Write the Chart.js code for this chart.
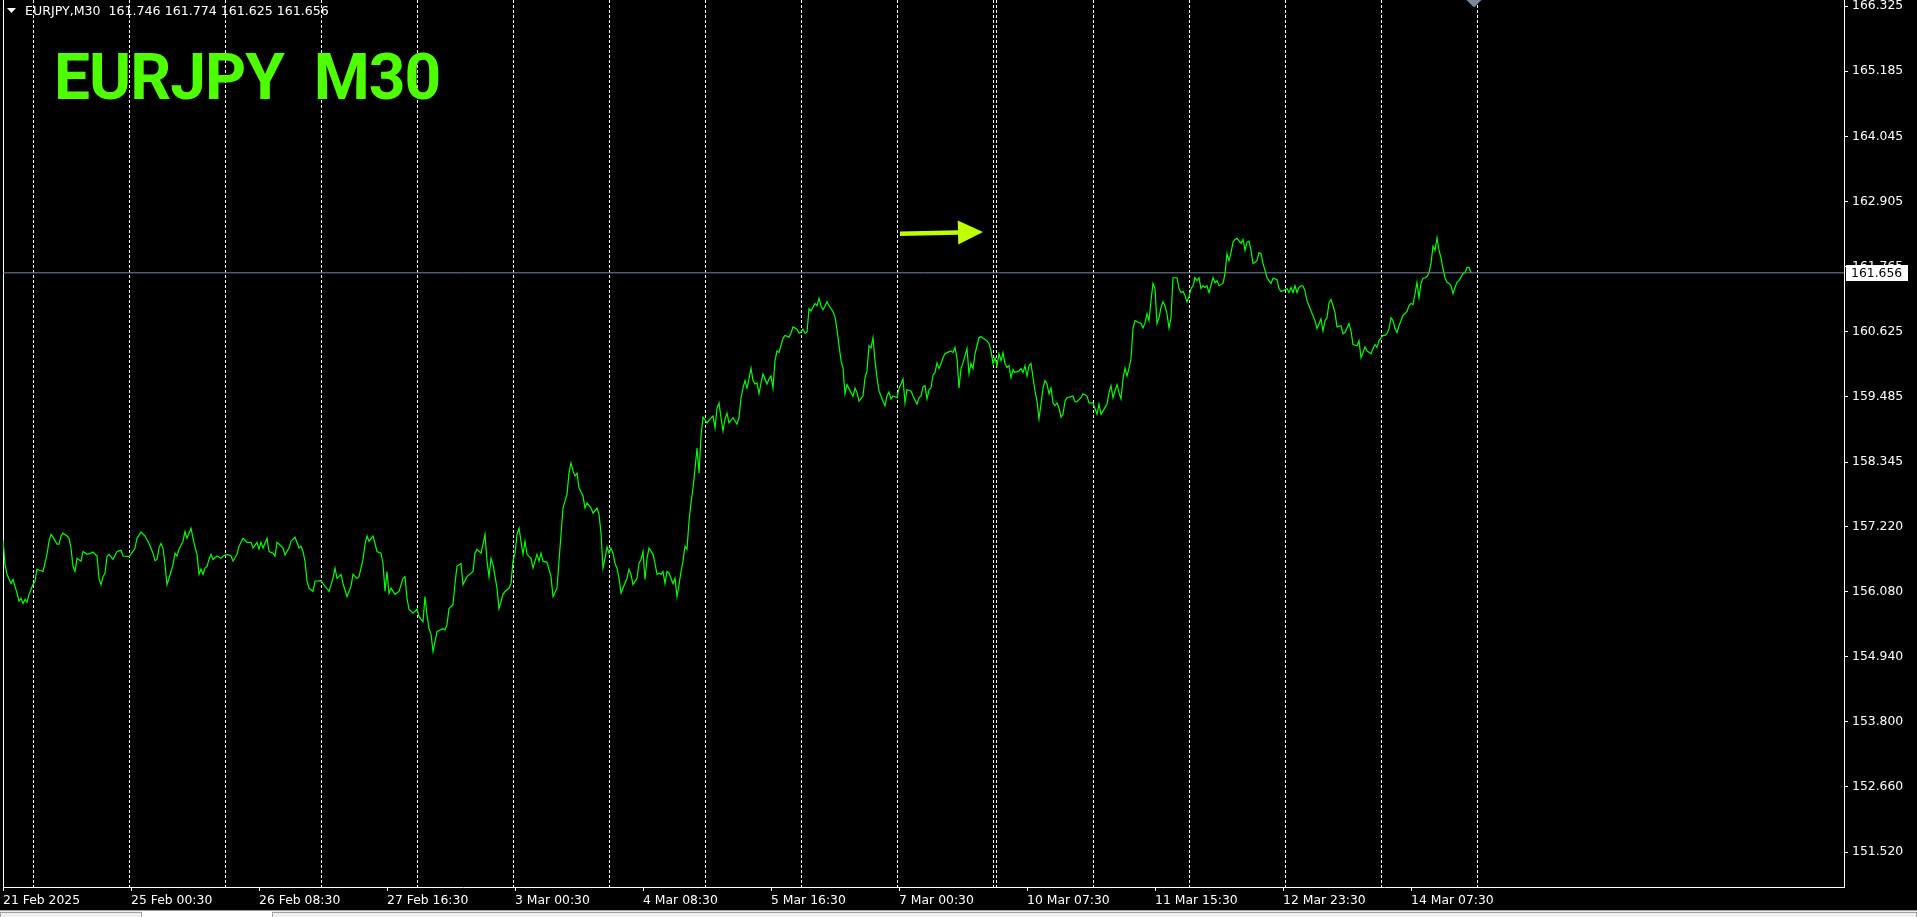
<!DOCTYPE html>
<html>
<head>
<meta charset="utf-8">
<title>EURJPY M30</title>
<script src="https://cdn.jsdelivr.net/npm/chart.js@4.4.1/dist/chart.umd.min.js"></script>
<style>
  html, body { margin: 0; padding: 0; background: #000; overflow: hidden; }
  #chart { display: block; }
</style>
</head>
<body>
<canvas id="chart" width="1917" height="917"></canvas>
<script>
// symbol info shown top-left
const symbolName = 'EURJPY';
const periodName = 'M30';
const lastBarOHLC = [161.746, 161.774, 161.625, 161.656];
const lastClose = 161.656;

// M30 bar number counted from the left edge, and the close at that bar
const barIdx = [
  0, 1, 2, 4, 5, 6, 7, 8, 9, 10,
  11, 12, 13, 15, 16, 17, 20, 22, 23, 24,
  25, 27, 28, 29, 30, 32, 33, 34, 35, 36,
  37, 39, 40, 42, 44, 45, 47, 48, 49, 50,
  51, 52, 53, 55, 57, 59, 60, 63, 65, 66,
  67, 69, 71, 73, 75, 76, 77, 78, 79, 80,
  81, 82, 84, 85, 86, 87, 88, 90, 91, 92,
  93, 94, 95, 96, 97, 98, 99, 100, 101, 102,
  103, 104, 105, 107, 109, 110, 112, 114, 115, 117,
  118, 120, 122, 124, 125, 127, 128, 129, 130, 132,
  133, 135, 136, 137, 138, 140, 141, 143, 144, 146,
  148, 149, 150, 151, 152, 153, 155, 156, 159, 160,
  163, 165, 166, 167, 169, 170, 172, 174, 175, 177,
  178, 180, 181, 182, 183, 185, 186, 187, 189, 190,
  191, 192, 193, 194, 196, 198, 200, 201, 202, 203,
  205, 207, 208, 210, 211, 212, 213, 214, 215, 216,
  217, 220, 221, 222, 223, 225, 226, 227, 229, 230,
  232, 235, 236, 237, 239, 240, 241, 242, 243, 244,
  245, 247, 248, 250, 251, 253, 254, 255, 256, 257,
  258, 259, 260, 261, 262, 264, 265, 267, 268, 269,
  270, 272, 274, 275, 277, 278, 279, 280, 282, 283,
  284, 285, 286, 287, 288, 290, 291, 292, 294, 295,
  297, 298, 299, 300, 301, 302, 303, 304, 305, 306,
  307, 308, 309, 310, 312, 313, 314, 315, 317, 318,
  319, 320, 321, 322, 323, 325, 326, 327, 328, 329,
  330, 331, 332, 333, 335, 336, 337, 338, 339, 340,
  341, 342, 343, 344, 345, 346, 347, 348, 349, 350,
  352, 353, 355, 356, 357, 358, 359, 360, 361, 362,
  363, 365, 367, 368, 369, 370, 371, 372, 373, 374,
  375, 376, 377, 378, 379, 380, 382, 383, 384, 385,
  386, 387, 388, 390, 391, 393, 394, 395, 397, 398,
  399, 400, 401, 402, 403, 404, 406, 407, 408, 409,
  410, 411, 412, 413, 415, 416, 417, 418, 419, 420,
  421, 422, 423, 425, 426, 427, 428, 430, 431, 432,
  433, 434, 435, 436, 437, 438, 440, 441, 442, 443,
  444, 445, 447, 448, 449, 450, 451, 452, 454, 455,
  457, 458, 459, 460, 461, 462, 463, 464, 465, 466,
  467, 468, 469, 470, 471, 472, 474, 475, 476, 477,
  478, 479, 480, 481, 482, 483, 484, 485, 486, 487,
  488, 489, 490, 492, 493, 494, 495, 496, 497, 498,
  499, 500, 501, 502, 503, 504, 505, 506, 508, 509,
  510, 511, 512, 513, 514, 515, 516, 517, 518, 519,
  520, 521, 522, 523, 524, 525, 526, 527, 528, 529,
  530, 531, 532, 534, 535, 536, 537, 539, 540, 542,
  543, 545, 546, 547, 548, 549, 550, 552, 553, 554,
  555, 556, 557, 558, 559, 560, 561, 562, 563, 564,
  565, 566, 567, 569, 570, 571, 572, 573, 574, 575,
  576, 577, 578, 579, 580, 581, 582, 583, 584, 585,
  587, 588, 589, 590, 591, 592, 593, 594, 595, 596,
  597, 598, 599, 600, 601, 602, 603, 605, 606, 607,
  608, 610, 611, 612, 613, 614, 615, 616, 617, 619,
  620, 621, 622, 623, 624, 625, 626, 627, 628, 629,
  630, 631, 632, 633, 634, 635, 637, 638, 639, 640,
  642, 643, 644, 645, 646, 647, 648, 649, 650, 651,
  652, 653, 654, 656, 657, 658, 659, 660, 661, 662,
  663, 664, 665, 666, 667, 669, 670, 671, 673, 674,
  675, 677, 678, 679, 680, 681, 682, 684, 685, 686,
  687, 688, 690, 691, 692, 693, 694, 695, 696, 697,
  698, 699, 700, 702, 703, 704, 705, 706, 707, 708,
  709, 710, 711, 712, 713, 714, 715, 716, 717, 718,
  719, 720, 721, 722, 723, 724, 725, 726, 727, 728,
  730, 731, 732, 733, 734
];
const closes = [
  156.99, 156.55, 156.38, 156.22, 156.29, 156.17, 156.05, 155.91, 155.96, 155.87,
  155.94, 155.89, 156.03, 156.20, 156.26, 156.47, 156.43, 156.73, 156.96, 157.08,
  157.03, 156.91, 156.91, 157.05, 157.10, 157.05, 157.01, 156.84, 156.52, 156.43,
  156.66, 156.61, 156.78, 156.73, 156.75, 156.77, 156.70, 156.31, 156.20, 156.34,
  156.40, 156.69, 156.73, 156.64, 156.78, 156.80, 156.70, 156.69, 156.78, 156.84,
  157.01, 157.12, 157.05, 156.92, 156.75, 156.62, 156.64, 156.84, 156.92, 156.84,
  156.55, 156.20, 156.43, 156.55, 156.75, 156.70, 156.82, 156.96, 157.13, 157.01,
  157.10, 157.19, 157.01, 156.86, 156.73, 156.38, 156.47, 156.38, 156.49, 156.52,
  156.64, 156.73, 156.64, 156.70, 156.66, 156.70, 156.73, 156.70, 156.61, 156.73,
  156.87, 157.01, 156.94, 156.94, 156.84, 156.94, 156.82, 156.94, 156.84, 157.01,
  156.78, 156.75, 156.70, 156.94, 156.91, 156.84, 156.72, 156.84, 156.96, 157.03,
  156.84, 156.87, 156.78, 156.61, 156.26, 156.14, 156.08, 156.26, 156.27, 156.22,
  156.08, 156.31, 156.49, 156.31, 156.38, 156.22, 155.99, 156.17, 156.38, 156.31,
  156.34, 156.64, 156.91, 157.05, 156.96, 157.05, 156.92, 156.78, 156.75, 156.57,
  156.08, 156.43, 156.05, 156.14, 156.03, 156.08, 156.31, 156.34, 155.96, 155.77,
  155.70, 155.77, 155.64, 155.55, 155.99, 155.67, 155.43, 155.34, 155.03, 155.20,
  155.38, 155.43, 155.41, 155.50, 155.78, 155.85, 156.22, 156.52, 156.57, 156.20,
  156.34, 156.43, 156.75, 156.82, 156.75, 156.91, 157.08, 156.61, 156.34, 156.66,
  156.55, 156.14, 155.78, 156.03, 156.08, 156.14, 156.22, 156.61, 156.75, 157.08,
  157.19, 156.96, 156.73, 156.96, 156.73, 156.66, 156.49, 156.73, 156.61, 156.75,
  156.61, 156.59, 156.34, 155.99, 156.14, 156.61, 157.08, 157.54, 157.78, 158.15,
  158.33, 158.19, 158.10, 158.15, 157.89, 157.75, 157.54, 157.63, 157.54, 157.45,
  157.54, 157.43, 157.10, 156.49, 156.66, 156.86, 156.75, 156.84, 156.75, 156.57,
  156.49, 156.31, 156.05, 156.14, 156.31, 156.47, 156.38, 156.20, 156.31, 156.57,
  156.64, 156.78, 156.29, 156.66, 156.84, 156.73, 156.57, 156.38, 156.40, 156.38,
  156.43, 156.22, 156.43, 156.40, 156.22, 156.31, 155.99, 156.20, 156.43, 156.61,
  156.87, 156.82, 157.31, 157.63, 157.89, 158.22, 158.59, 158.15, 158.80, 159.13,
  159.03, 159.08, 159.15, 158.94, 159.29, 159.38, 159.12, 158.89, 159.10, 159.20,
  159.03, 159.12, 159.01, 159.12, 159.47, 159.64, 159.77, 159.64, 159.80, 159.99,
  159.77, 159.71, 159.73, 159.54, 159.73, 159.89, 159.71, 159.80, 159.85, 159.64,
  160.12, 160.29, 160.26, 160.51, 160.56, 160.53, 160.60, 160.71, 160.67, 160.60,
  160.62, 160.67, 160.60, 160.62, 161.03, 160.99, 161.12, 161.08, 161.21, 161.08,
  161.01, 161.07, 161.15, 161.08, 160.98, 160.88, 160.66, 160.39, 160.12, 159.99,
  159.54, 159.70, 159.63, 159.49, 159.64, 159.56, 159.41, 159.50, 159.82, 159.94,
  160.38, 160.34, 160.52, 160.12, 159.82, 159.59, 159.41, 159.33, 159.50, 159.57,
  159.45, 159.50, 159.47, 159.63, 159.71, 159.80, 159.38, 159.61, 159.59, 159.50,
  159.36, 159.47, 159.50, 159.66, 159.68, 159.45, 159.61, 159.64, 159.87, 159.91,
  160.08, 159.98, 160.07, 160.17, 160.24, 160.26, 160.29, 160.26, 160.35, 160.16,
  159.64, 159.98, 160.08, 160.21, 160.33, 159.89, 160.07, 159.98, 160.24, 160.38,
  160.52, 160.54, 160.51, 160.47, 160.42, 160.29, 160.07, 160.17, 160.03, 160.24,
  160.12, 160.26, 160.07, 160.00, 160.03, 159.82, 159.96, 159.91, 159.94, 159.98,
  159.91, 160.03, 159.85, 160.03, 160.07, 159.82, 159.59, 159.41, 159.10, 159.36,
  159.64, 159.77, 159.71, 159.54, 159.64, 159.38, 159.33, 159.38, 159.29, 159.13,
  159.18, 159.41, 159.47, 159.49, 159.50, 159.40, 159.40, 159.47, 159.54, 159.50,
  159.38, 159.38, 159.28, 159.18, 159.36, 159.18, 159.24, 159.36, 159.56, 159.68,
  159.47, 159.59, 159.70, 159.56, 159.45, 159.80, 159.99, 159.85, 159.99, 160.15,
  160.69, 160.82, 160.80, 160.77, 160.69, 160.78, 160.94, 160.82, 161.17, 161.47,
  161.38, 160.77, 160.87, 161.05, 161.15, 161.08, 160.94, 160.69, 160.87, 161.57,
  161.57, 161.38, 161.31, 161.33, 161.26, 161.15, 161.24, 161.38, 161.43, 161.57,
  161.52, 161.57, 161.38, 161.43, 161.40, 161.43, 161.31, 161.57, 161.48, 161.52,
  161.43, 161.47, 161.64, 161.99, 161.87, 162.01, 162.19, 162.24, 162.26, 162.17,
  162.24, 162.05, 162.19, 162.21, 162.05, 161.82, 161.84, 161.87, 162.01, 161.99,
  161.82, 161.70, 161.57, 161.52, 161.47, 161.56, 161.54, 161.38, 161.33, 161.34,
  161.38, 161.31, 161.40, 161.31, 161.43, 161.31, 161.40, 161.43, 161.43, 161.34,
  161.17, 161.08, 160.99, 160.82, 160.68, 160.76, 160.85, 160.64, 160.82, 160.87,
  161.13, 161.19, 161.08, 160.96, 160.71, 160.73, 160.59, 160.61, 160.77, 160.64,
  160.40, 160.38, 160.47, 160.17, 160.26, 160.36, 160.29, 160.24, 160.33, 160.40,
  160.35, 160.47, 160.56, 160.56, 160.59, 160.68, 160.87, 160.82, 160.68, 160.61,
  160.73, 160.82, 160.91, 160.98, 161.08, 161.12, 161.10, 161.29, 161.49, 161.22,
  161.47, 161.56, 161.57, 161.59, 161.66, 161.82, 162.12, 162.05, 162.27, 162.05,
  161.92, 161.73, 161.57, 161.49, 161.47, 161.43, 161.29, 161.40, 161.49, 161.52,
  161.64, 161.66, 161.75, 161.75, 161.656
];

// price scale on the right
const yTickVals = [166.325, 165.185, 164.045, 162.905, 161.765, 160.625, 159.485,
  158.345, 157.220, 156.080, 154.940, 153.800, 152.660, 151.520];
const yMin = 150.909;
const yMax = 166.43;

// time scale (bar numbers) and its labels
const xTickIdx = [0, 64, 128, 192, 256, 320, 384, 448, 512, 576, 640, 704];
const xTickText = ['21 Feb 2025', '25 Feb 00:30', '26 Feb 08:30', '27 Feb 16:30', '3 Mar 00:30',
  '4 Mar 08:30', '5 Mar 16:30', '7 Mar 00:30', '10 Mar 07:30', '11 Mar 15:30', '12 Mar 23:30', '14 Mar 07:30'];
const xMax = 920.5;

// dashed vertical grid lines (bar numbers)
const gridIdx = [15, 63, 111, 159, 207, 255, 303, 351, 399, 447, 495, 497, 545, 593, 641, 689, 737];

// arrow object drawn on the chart (bar number / price)
const arrowFrom = { x: 448.5, y: 162.34 };
const arrowTo = { x: 490, y: 162.37 };

const labelFont = { family: 'DejaVu Sans', size: 12.4 };

// chart.js adds room for half a label at the axis ends; MT4 doesn't
function noPad(s) {
  s.paddingTop = 0;
  s.paddingBottom = 0;
  s.paddingLeft = 0;
  s.paddingRight = 0;
}

// black background + the MT4 extras (title, arrow, price box...)
const mtDecor = {
  id: 'mtDecor',
  beforeDraw(chart) {
    const ctx = chart.ctx;
    ctx.save();
    ctx.fillStyle = '#000';
    ctx.fillRect(0, 0, chart.width, chart.height);
    ctx.restore();
  },
  afterDraw(chart) {
    const ctx = chart.ctx;
    const xs = chart.scales.x;
    const ys = chart.scales.y;
    const area = chart.chartArea;
    ctx.save();

    // small header line
    ctx.fillStyle = '#fff';
    ctx.beginPath();
    ctx.moveTo(7, 8); ctx.lineTo(16, 8); ctx.lineTo(11.5, 13);
    ctx.closePath();
    ctx.fill();
    ctx.font = '12.6px "DejaVu Sans"';
    ctx.textBaseline = 'middle';
    ctx.textAlign = 'left';
    ctx.fillText(symbolName + ',' + periodName + '  ' + lastBarOHLC.map(v => v.toFixed(3)).join(' '), 25, 12);

    // big green title
    ctx.save();
    ctx.fillStyle = '#4dff00';
    ctx.font = 'bold 64px Roboto';
    ctx.letterSpacing = '-1px';
    ctx.textBaseline = 'alphabetic';
    ctx.fillText(symbolName + '  ' + periodName, 54, 99);
    ctx.restore();

    // arrow
    const ax0 = xs.getPixelForValue(arrowFrom.x), ay0 = ys.getPixelForValue(arrowFrom.y);
    const ax1 = xs.getPixelForValue(arrowTo.x), ay1 = ys.getPixelForValue(arrowTo.y);
    const len = Math.hypot(ax1 - ax0, ay1 - ay0);
    ctx.save();
    ctx.translate(ax0, ay0);
    ctx.rotate(Math.atan2(ay1 - ay0, ax1 - ax0));
    ctx.fillStyle = '#bfff00';
    ctx.fillRect(0, -2.2, len - 25, 4.4);
    ctx.beginPath();
    ctx.moveTo(len - 25, -12); ctx.lineTo(len, 0); ctx.lineTo(len - 25, 12);
    ctx.closePath();
    ctx.fill();
    ctx.restore();

    // shift marker at the top
    const mx = xs.getPixelForValue(barIdx[barIdx.length - 1] + 1.5);
    ctx.fillStyle = '#778899';
    ctx.beginPath();
    ctx.moveTo(mx - 7.5, 0); ctx.lineTo(mx + 7.5, 0); ctx.lineTo(mx, 7.5);
    ctx.closePath();
    ctx.fill();

    // current price box on the price scale
    const py = Math.round(ys.getPixelForValue(lastClose));
    ctx.fillStyle = '#fff';
    ctx.fillRect(area.right + 2, py - 8, 62, 16);
    ctx.fillStyle = '#000';
    ctx.font = '12.4px "DejaVu Sans"';
    ctx.textBaseline = 'middle';
    ctx.fillText(lastClose.toFixed(3), area.right + 7, py + 0.5);

    // tab strip at the very bottom
    ctx.fillStyle = '#a0a0a0';
    ctx.fillRect(0, 910, chart.width, 1);
    ctx.fillStyle = '#f0f0f0';
    ctx.fillRect(0, 911, chart.width, 6);
    ctx.fillStyle = '#fff';
    ctx.fillRect(142, 911, 130, 6);
    ctx.strokeStyle = '#a0a0a0';
    ctx.strokeRect(0.5, 912.5, 141, 6);
    ctx.strokeRect(272.5, 912.5, chart.width - 273, 6);

    ctx.restore();
  }
};

const ctx = document.getElementById('chart').getContext('2d');
new Chart(ctx, {
  type: 'line',
  data: {
    datasets: [
      {
        // current price line
        data: [{ x: 0, y: lastClose }, { x: xMax, y: lastClose }],
        borderColor: '#778899',
        borderWidth: 1,
        pointRadius: 0
      },
      {
        label: 'EURJPY close',
        data: barIdx.map((b, i) => ({ x: b, y: closes[i] })),
        borderColor: '#00ff00',
        borderWidth: 1.2,
        pointRadius: 0,
        tension: 0
      }
    ]
  },
  options: {
    responsive: false,
    animation: false,
    events: [],
    layout: { padding: 0 },
    plugins: { legend: { display: false }, tooltip: { enabled: false }, title: { display: false } },
    scales: {
      x: {
        type: 'linear', position: 'bottom', min: 0, max: xMax,
        afterBuildTicks: s => { s.ticks = xTickIdx.map(v => ({ value: v })); },
        afterFit: s => { s.height = 30; noPad(s); },
        grid: { drawOnChartArea: false, drawTicks: true, tickLength: 4, tickColor: '#fff', color: '#fff' },
        border: { display: true, color: '#fff', width: 1 },
        ticks: {
          autoSkip: false, maxRotation: 0, minRotation: 0, align: 'start', padding: 2,
          color: '#fff', font: labelFont,
          callback: v => xTickText[xTickIdx.indexOf(v)]
        }
      },
      xg: {
        type: 'linear', position: 'bottom', min: 0, max: xMax,
        afterBuildTicks: s => { s.ticks = gridIdx.map(v => ({ value: v })); },
        afterFit: s => { s.height = 0; noPad(s); },
        grid: { color: '#fff', lineWidth: 1, drawTicks: false, drawOnChartArea: true },
        border: { display: false, dash: [3, 2] },
        ticks: { display: false }
      },
      y: {
        type: 'linear', position: 'right', min: yMin, max: yMax,
        afterBuildTicks: s => { s.ticks = yTickVals.map(v => ({ value: v })); },
        afterFit: s => { s.width = 73; noPad(s); },
        grid: { drawOnChartArea: false, drawTicks: true, tickLength: 4, tickColor: '#fff', color: '#fff' },
        border: { display: true, color: '#fff', width: 1 },
        ticks: { autoSkip: false, padding: 4, color: '#fff', font: labelFont, callback: v => v.toFixed(3) }
      },
      yl: {
        type: 'linear', position: 'left', min: 0, max: 1,
        afterFit: s => { s.width = 3; noPad(s); },
        grid: { display: false },
        border: { display: true, color: '#fff', width: 1 },
        ticks: { display: false }
      }
    }
  },
  plugins: [mtDecor]
});
</script>
</body>
</html>
